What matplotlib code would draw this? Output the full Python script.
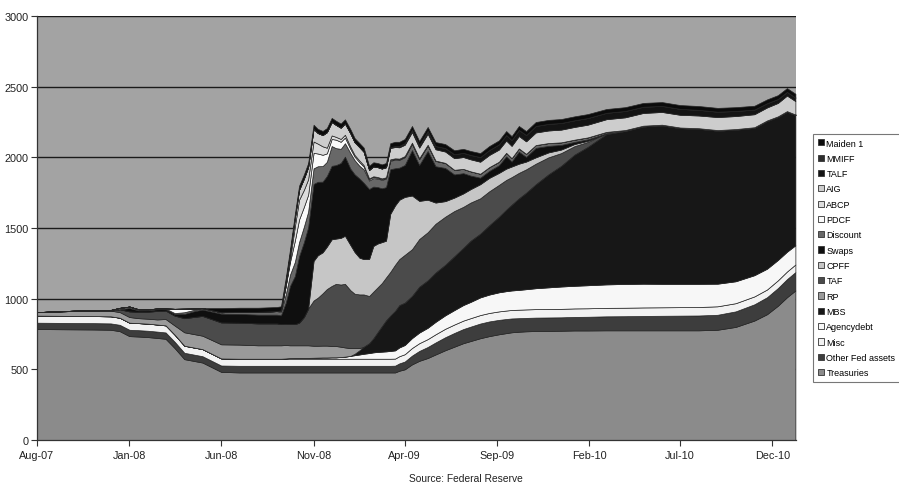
import matplotlib
matplotlib.use("Agg")
import matplotlib.pyplot as plt
import pandas as pd
from matplotlib.patches import Patch

# ---------------- data (USD bn, weekly-ish snapshots) ----------------
dates = [
    "2007-08-01", "2007-09-01", "2007-10-01", "2007-11-01", "2007-12-01", "2007-12-16",
    "2008-01-01", "2008-01-16", "2008-02-01", "2008-02-16", "2008-03-01", "2008-03-16",
    "2008-04-01", "2008-04-16", "2008-05-01", "2008-06-01", "2008-07-01", "2008-08-01",
    "2008-09-01",
    "2008-09-08", "2008-09-16", "2008-09-23", "2008-10-01", "2008-10-08", "2008-10-16",
    "2008-10-23", "2008-11-01", "2008-11-08", "2008-11-16", "2008-11-23", "2008-12-01",
    "2008-12-08", "2008-12-16", "2008-12-23", "2009-01-01", "2009-01-08", "2009-01-16",
    "2009-01-23", "2009-02-01", "2009-02-08", "2009-02-15", "2009-02-22", "2009-03-01",
    "2009-03-08", "2009-03-16", "2009-03-23", "2009-04-01",
    "2009-04-13", "2009-04-25", "2009-05-09", "2009-05-22", "2009-06-07", "2009-06-22",
    "2009-07-07", "2009-07-19", "2009-08-04", "2009-08-19", "2009-09-04", "2009-09-16",
    "2009-09-25", "2009-10-07", "2009-10-19", "2009-11-04", "2009-11-25", "2009-12-16",
    "2010-01-07", "2010-01-29", "2010-03-01", "2010-04-01", "2010-05-01", "2010-06-01",
    "2010-07-01", "2010-08-01", "2010-09-01", "2010-10-01", "2010-11-01", "2010-11-22",
    "2010-12-10", "2010-12-25", "2011-01-08",
]

treasuries = [
    785, 784, 783, 782, 780, 770, 735, 732, 728, 722, 716, 650, 572, 560, 548, 482, 478, 478, 478,
    478, 478, 478, 478, 478, 478, 478, 478, 478, 478, 478, 478, 478, 478, 478, 478, 478, 478,
    478, 478, 478, 478, 478, 478, 478, 478, 490, 500,
    535, 560, 580, 605, 635, 660, 685, 700, 720, 735, 748, 756, 762, 766, 769, 771, 772, 773,
    775, 775, 776, 776, 776, 776, 776, 776, 780, 800, 845, 890, 950, 1010, 1058,
]
other_fed_assets = [
    45, 45, 45, 45, 45, 45, 45, 45, 45, 45, 45, 45, 45, 45, 45, 45, 47, 47, 47,
    47, 47, 47, 47, 47, 47, 47, 47, 47, 47, 47, 47, 47, 47, 47, 47, 47, 47,
    47, 47, 47, 47, 47, 47, 47, 48, 52, 55,
    62, 70, 78, 85, 92, 97, 100, 102, 104, 104, 102, 100, 98, 96, 95, 95, 95, 95,
    96, 97, 99, 100, 102, 103, 104, 105, 106, 110, 115, 120, 125, 128, 130,
]
misc = [
    50, 50, 50, 50, 50, 50, 50, 50, 50, 50, 50, 50, 50, 50, 50, 50, 50, 50, 50,
    50, 50, 50, 50, 50, 50, 50, 50, 50, 50, 50, 50, 50, 50, 50, 50, 50, 50,
    50, 50, 50, 50, 50, 50, 50, 50, 51, 52,
    54, 55, 56, 58, 60, 60, 60, 60, 60, 60, 60, 60, 60, 60, 60, 60, 60, 60,
    60, 60, 60, 60, 60, 60, 60, 60, 60, 58, 56, 55, 55, 54, 54,
]
agency_debt = [
    0, 0, 0, 0, 0, 0, 0, 0, 0, 0, 0, 0, 0, 0, 0, 0, 0, 0, 0,
    0, 2, 5, 6, 6, 6, 6, 7, 8, 9, 9, 10, 10, 12, 15, 20, 25, 30,
    35, 40, 45, 48, 50, 52, 55, 58, 62, 65,
    70, 75, 80, 88, 95, 102, 110, 115, 125, 130, 135, 137, 138, 140, 143, 148, 153, 158,
    160, 163, 166, 168, 168, 166, 165, 164, 160, 155, 150, 147, 144, 140, 136,
]
mbs = [
    0, 0, 0, 0, 0, 0, 0, 0, 0, 0, 0, 0, 0, 0, 0, 0, 0, 0, 0,
    0, 0, 0, 0, 0, 0, 0, 0, 0, 0, 0, 0, 0, 0, 0, 0, 10, 30,
    50, 70, 100, 140, 180, 220, 250, 280, 300, 300,
    299, 325, 336, 349, 358, 381, 405, 433, 451, 491, 535, 577, 607, 648, 683, 736, 800, 854,
    928, 979, 1064, 1083, 1113, 1121, 1102, 1097, 1083, 1073, 1043, 1045, 1012, 991, 922,
]
rp = [
    25, 30, 35, 38, 40, 40, 40, 35, 35, 36, 45, 65, 95, 95, 95, 100, 100, 95, 95,
    95, 95, 90, 89, 89, 89, 89, 85, 84, 84, 84, 80, 80, 73, 65, 55, 40, 15,
    0, 0, 0, 0, 0, 0, 0, 0, 0, 0,
    0, 0, 0, 0, 0, 0, 0, 0, 0, 0, 0, 0, 0, 0, 0, 0, 0, 0,
    0, 0, 0, 0, 0, 0, 0, 0, 0, 0, 0, 0, 0, 0, 0,
]
taf = [
    0, 0, 0, 0, 0, 20, 40, 45, 50, 60, 60, 70, 100, 120, 140, 155, 155, 155, 155,
    150, 150, 150, 150, 160, 200, 260, 320, 340, 370, 400, 425, 440, 440, 450, 410, 385, 380,
    370, 334, 330, 317, 305, 303, 309, 326, 325, 338,
    330, 337, 340, 345, 340, 320, 290, 270, 250, 240, 225, 210, 195, 180, 165, 145, 120, 90,
    60, 35, 5, 0, 0, 0, 0, 0, 0, 0, 0, 0, 0, 0, 0,
]
cpff = [
    0, 0, 0, 0, 0, 0, 0, 0, 0, 0, 0, 0, 0, 0, 0, 0, 0, 0, 0,
    0, 0, 0, 0, 0, 0, 0, 280, 300, 290, 300, 330, 320, 330, 340, 320, 295, 260,
    250, 262, 323, 310, 290, 260, 411, 420, 420, 410,
    380, 270, 230, 150, 110, 95, 95, 95, 100, 95, 85, 80, 75, 65, 55, 45, 35, 25,
    15, 8, 0, 0, 0, 0, 0, 0, 0, 0, 0, 0, 0, 0, 0,
]
swaps = [
    0, 0, 0, 0, 0, 0, 24, 10, 10, 12, 10, 12, 30, 40, 45, 62, 62, 62, 62,
    62, 150, 270, 340, 470, 530, 575, 545, 520, 500, 500, 520, 520, 530, 560, 540, 550, 560,
    540, 495, 420, 400, 381, 379, 316, 263, 227, 226,
    321, 254, 345, 257, 235, 164, 143, 96, 46, 49, 54, 87, 35, 85, 33, 67, 46, 33,
    15, 10, 0, 0, 0, 1, 1, 1, 1, 1, 1, 1, 1, 1, 0,
]
discount = [
    0, 1, 2, 3, 5, 10, 10, 8, 7, 5, 4, 6, 12, 10, 8, 10, 15, 20, 25,
    25, 60, 80, 100, 100, 110, 110, 110, 110, 110, 100, 140, 120, 100, 95, 110, 100, 90,
    95, 60, 60, 60, 60, 60, 60, 60, 55, 55,
    45, 42, 40, 38, 35, 33, 30, 30, 28, 27, 25, 25, 24, 23, 22, 20, 20, 18,
    16, 14, 10, 6, 5, 4, 3, 3, 3, 3, 3, 3, 3, 3, 3,
]
pdcf = [
    0, 0, 0, 0, 0, 0, 0, 0, 0, 0, 0, 30, 25, 10, 2, 0, 0, 0, 0,
    10, 60, 90, 150, 160, 140, 120, 110, 90, 80, 60, 50, 60, 50, 40, 30, 25, 25,
    20, 10, 8, 6, 5, 5, 5, 5, 4, 3,
    3, 2, 1, 0, 0, 0, 0, 0, 0, 0, 0, 0, 0, 0, 0, 0, 0, 0,
    0, 0, 0, 0, 0, 0, 0, 0, 0, 0, 0, 0, 0, 0, 0,
]
abcp = [
    0, 0, 0, 0, 0, 0, 0, 0, 0, 0, 0, 0, 0, 0, 0, 0, 0, 0, 0,
    0, 0, 20, 100, 140, 120, 110, 80, 70, 60, 40, 25, 20, 20, 20, 15, 12, 12,
    10, 5, 5, 5, 5, 5, 5, 5, 5, 5,
    5, 4, 3, 2, 1, 0, 0, 0, 0, 0, 0, 0, 0, 0, 0, 0, 0, 0,
    0, 0, 0, 0, 0, 0, 0, 0, 0, 0, 0, 0, 0, 0, 0,
]
aig = [
    0, 0, 0, 0, 0, 0, 0, 0, 0, 0, 0, 0, 0, 0, 0, 0, 0, 0, 0,
    0, 28, 40, 60, 70, 80, 85, 90, 75, 80, 110, 95, 85, 80, 80, 95, 90, 95,
    95, 60, 70, 70, 70, 70, 80, 80, 80, 80,
    75, 75, 78, 80, 80, 82, 84, 85, 85, 86, 86, 87, 87, 88, 88, 89, 89, 90,
    90, 90, 90, 90, 90, 90, 90, 90, 92, 92, 92, 92, 95, 110, 95,
]
talf = [
    0, 0, 0, 0, 0, 0, 0, 0, 0, 0, 0, 0, 0, 0, 0, 0, 0, 0, 0,
    0, 0, 0, 0, 0, 0, 0, 0, 0, 0, 0, 0, 0, 0, 0, 0, 0, 0,
    0, 0, 0, 0, 0, 2, 5, 8, 10, 12,
    15, 18, 20, 23, 25, 28, 30, 31, 33, 35, 37, 39, 41, 43, 45, 46, 47, 47,
    47, 47, 45, 45, 44, 43, 42, 40, 38, 36, 33, 30, 28, 26, 25,
]
mmiff = [0] * len(dates)
maiden_1 = [
    0, 0, 0, 0, 0, 0, 0, 0, 0, 0, 0, 0, 0, 0, 0, 29, 29, 29, 29,
    29, 29, 29, 29, 29, 29, 29, 29, 29, 29, 29, 29, 29, 29, 29, 29, 29, 29,
    29, 29, 29, 29, 29, 29, 29, 29, 29, 29,
    28, 28, 28, 28, 28, 28, 28, 28, 28, 28, 28, 28, 28, 28, 28, 28, 28, 28,
    28, 28, 27, 27, 27, 27, 27, 27, 27, 27, 27, 27, 27, 27, 27,
]

series_names = ["Treasuries", "Other Fed assets", "Misc", "Agencydebt", "MBS", "RP", "TAF",
                "CPFF", "Swaps", "Discount", "PDCF", "ABCP", "AIG", "TALF", "MMIFF", "Maiden 1"]
series_values = [treasuries, other_fed_assets, misc, agency_debt, mbs, rp, taf, cpff, swaps,
                 discount, pdcf, abcp, aig, talf, mmiff, maiden_1]
series_colors = ["#8b8b8b", "#3d3d3d", "#f2f2f2", "#f7f7f7", "#171717", "#9a9a9a", "#4b4b4b",
                 "#c6c6c6", "#0f0f0f", "#686868", "#fafafa", "#dddddd", "#cdcdcd", "#141414",
                 "#2e2e2e", "#0b0b0b"]

tick_dates = ["2007-08-01", "2008-01-01", "2008-06-01", "2008-11-01", "2009-04-01",
              "2009-09-01", "2010-02-01", "2010-07-01", "2010-12-01"]
tick_labels = ["Aug-07", "Jan-08", "Jun-08", "Nov-08", "Apr-09", "Sep-09", "Feb-10",
               "Jul-10", "Dec-10"]

# ---------------- figure ----------------
plt.rcParams["font.family"] = ["Liberation Sans", "DejaVu Sans"]
W, H = 899, 485
fig = plt.figure(figsize=(W / 100, H / 100), dpi=100)
fig.patch.set_facecolor("white")
ax = fig.add_axes([37 / W, 1 - 441 / H, (796 - 37) / W, (441 - 17) / H])
ax.set_facecolor("#a3a3a3")

x = pd.to_datetime(dates)
ax.stackplot(x, *series_values, colors=series_colors, edgecolor="#262626",
             linewidth=0.5, zorder=3)

ax.set_ylim(0, 3000)
ax.set_yticks(range(0, 3001, 500))
ax.yaxis.grid(True, color="#1a1a1a", linewidth=1.0, zorder=1)
ax.set_axisbelow(True)
ax.set_xlim(pd.Timestamp("2007-08-01"), pd.Timestamp("2011-01-09"))
ax.set_xticks(pd.to_datetime(tick_dates))
ax.set_xticklabels(tick_labels)
ax.tick_params(axis="both", labelsize=7.8, length=4, width=0.8, color="#333333",
               labelcolor="#222222", direction="out")
ax.tick_params(axis="x", pad=3.5)
ax.tick_params(axis="y", pad=2)
for s in ["top", "right"]:
    ax.spines[s].set_visible(False)
for s in ["left", "bottom"]:
    ax.spines[s].set_color("#333333")
    ax.spines[s].set_linewidth(0.9)
    ax.spines[s].set_zorder(5)

handles = [Patch(facecolor=c, edgecolor="#333333", linewidth=0.6)
           for c in series_colors][::-1]
labels = series_names[::-1]
leg = fig.legend(handles, labels, loc="upper left",
                 bbox_to_anchor=(813 / W, 1 - 135 / H), fontsize=6.5,
                 handlelength=0.68, handleheight=0.68, handletextpad=0.3,
                 labelspacing=0.70, borderpad=0.5, borderaxespad=0,
                 frameon=True, fancybox=False, edgecolor="#555555")
leg.get_frame().set_linewidth(0.8)

fig.text(466 / W, 1 - 479 / H, "Source: Federal Reserve", ha="center", va="center",
         fontsize=7.4, color="#222222")

fig.savefig("out.png", dpi=100)
